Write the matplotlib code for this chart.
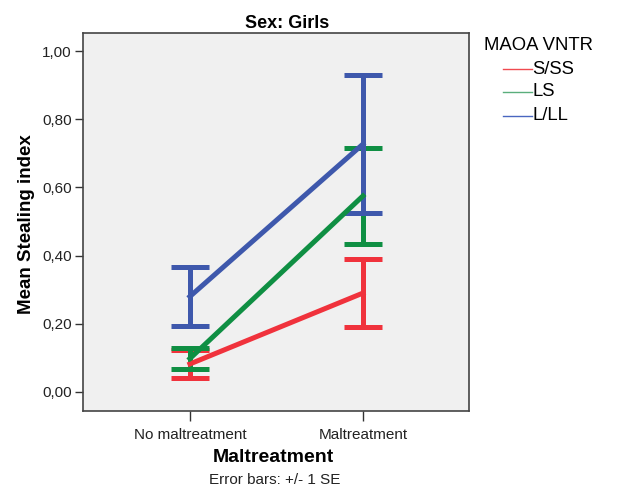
import matplotlib
matplotlib.use("Agg")
import matplotlib.pyplot as plt
from matplotlib.ticker import FuncFormatter
from matplotlib.lines import Line2D

plt.rcParams['font.family'] = ['Liberation Sans', 'DejaVu Sans']

categories = ["No maltreatment", "Maltreatment"]
groups = ["S/SS", "LS", "L/LL"]
means = {
    "S/SS": [0.082, 0.290],
    "LS": [0.098, 0.575],
    "L/LL": [0.280, 0.727],
}
se = {
    "S/SS": [0.041, 0.100],
    "LS": [0.031, 0.141],
    "L/LL": [0.087, 0.203],
}
colors = {"S/SS": "#F0323C", "LS": "#0F8F43", "L/LL": "#3E58AC"}
legend_colors = {"S/SS": "#F04A50", "LS": "#5AAE7C", "L/LL": "#4A66C0"}
yticks = [0.0, 0.2, 0.4, 0.6, 0.8, 1.0]

W, H = 625, 500
fig = plt.figure(figsize=(6.25, 5), dpi=100)
ax = fig.add_axes([83/W, 1-411/H, (469-83)/W, (411-33)/H])
ax.set_facecolor("#F0F0F0")

x = list(range(len(categories)))
for g in groups:
    ax.errorbar(x, means[g], yerr=se[g], color=colors[g], lw=3.6,
                elinewidth=3.6, capsize=13.5, capthick=3.6, zorder=3)

ax.set_xlim(-0.618, 1.613)
ax.set_ylim(-0.056, 1.053)
ax.set_xticks(x)
ax.set_xticklabels(categories, fontsize=11, color="#222222")
ax.set_yticks(yticks)
ax.yaxis.set_major_formatter(FuncFormatter(lambda v, p: f"{v:.2f}".replace(".", ",")))
ax.tick_params(axis='y', labelsize=11, labelcolor="#222222", length=6, width=1, color="#333333", pad=2)
ax.tick_params(axis='x', length=7, width=1, color="#333333", pad=5)
for s in ax.spines.values():
    s.set_color("#444444")
    s.set_linewidth(1.2)

fig.text(287/W, 1-23/H, "Sex: Girls", ha='center', va='center', fontsize=13, fontweight='bold')
fig.text(27/W, 1-224/H, "Mean Stealing index", ha='center', va='center', rotation=90,
         fontsize=13.5, fontweight='bold')
fig.text(273/W, 1-458/H, "Maltreatment", ha='center', va='center', fontsize=14, fontweight='bold')
fig.text(275/W, 1-480/H, "Error bars: +/- 1 SE", ha='center', va='center', fontsize=11, color="#222222")

# legend
fig.text(484/W, 1-45/H, "MAOA VNTR", ha='left', va='center', fontsize=13.3)
legend_y = [69, 92, 116]
for g, yp in zip(groups, legend_y):
    yy = 1 - yp/H
    fig.add_artist(Line2D([503/W, 532/W], [yy, yy], color=legend_colors[g], lw=1.0, transform=fig.transFigure))
    fig.text(532/W, yy, g, ha='left', va='center', fontsize=13.3)

fig.savefig("out.png", dpi=100)
